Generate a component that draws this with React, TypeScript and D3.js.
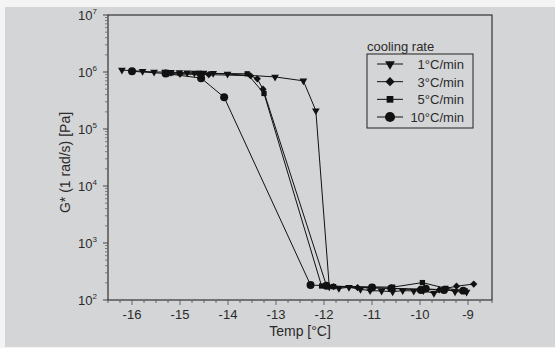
import React, { useEffect, useRef } from 'react';
import * as d3 from 'd3';

// series: temperature [°C] and G* [Pa]
const temp1 = [-16.21, -15.78, -15.54, -15.31, -15.19, -15.01, -14.85, -14.7, -14.51, -14.31, -14.01, -13.02, -12.43, -12.17, -11.89, -11.69, -11.48, -11.24, -11.04, -10.8, -10.57, -10.36, -10.13, -9.93, -9.71, -9.46, -9.27, -9.03];
const g1 = [1.08e6, 1.03e6, 1.0e6, 1.0e6, 9.9e5, 9.8e5, 9.7e5, 9.6e5, 9.6e5, 9.5e5, 9.2e5, 8.2e5, 7.0e5, 2.1e5, 171, 160, 167, 154, 146, 144, 140, 146, 144, 146, 131, 154, 140, 138];

const temp3 = [-15.25, -15.0, -14.4, -13.53, -13.39, -13.27, -11.95, -11.8, -11.3, -10.6, -10.0, -9.6, -9.24, -8.88];
const g3 = [9.4e5, 9.2e5, 9.0e5, 8.6e5, 7.6e5, 5.0e5, 180, 172, 165, 160, 155, 150, 175, 190];

const temp5 = [-15.31, -15.19, -14.6, -13.6, -13.25, -12.05, -11.8, -10.99, -10.57, -9.95, -9.46, -9.06];
const g5 = [9.7e5, 9.6e5, 9.5e5, 9.3e5, 4.2e5, 176, 172, 170, 168, 202, 160, 145];

const temp10 = [-16.0, -15.3, -14.56, -14.08, -12.28, -11.95, -11.0, -10.6, -9.98, -9.88, -9.5, -9.1];
const g10 = [1.03e6, 9.4e5, 7.8e5, 3.6e5, 183, 178, 165, 160, 150, 157, 150, 146];

const seriesNames = ['1°C/min', '3°C/min', '5°C/min', '10°C/min'];
const symbols = [d3.symbolTriangle, d3.symbolSquare, d3.symbolSquare, d3.symbolCircle];
const rotations = [180, 45, 0, 0];
const xTicks = [-16, -15, -14, -13, -12, -11, -10, -9];
const yExponents = [2, 3, 4, 5, 6, 7];

const App = () => {
  const ref = useRef<SVGSVGElement>(null);

  useEffect(() => {
    const svg = d3.select(ref.current);
    svg.selectAll('*').remove();

    const W = 555, H = 348;
    const left = 108, right = 492, top = 15, bottom = 300;
    const font = '"Liberation Sans", Arial, sans-serif';

    svg.append('rect').attr('width', W).attr('height', H).attr('fill', '#f4f4f4');
    svg.append('rect').attr('x', 5).attr('y', 7).attr('width', W - 5).attr('height', H - 8).attr('fill', '#d4d5d7');

    const x = d3.scaleLinear().domain([-16.5, -8.5]).range([left, right]);
    const y = d3.scaleLog().domain([1e2, 1e7]).range([bottom, top]);

    // frame
    svg.append('rect')
      .attr('x', left).attr('y', top)
      .attr('width', right - left).attr('height', bottom - top)
      .attr('fill', 'none').attr('stroke', '#333').attr('stroke-width', 1.2);

    // x axis ticks
    const xMinor = d3.range(-16.5, -8.49, 0.25);
    svg.append('g').selectAll('line').data(xMinor).enter().append('line')
      .attr('x1', d => x(d)).attr('x2', d => x(d))
      .attr('y1', bottom).attr('y2', d => bottom + (Math.abs(d - Math.round(d)) < 1e-6 ? 5 : 3))
      .attr('stroke', '#555').attr('stroke-width', 0.9);

    svg.append('g').selectAll('text').data(xTicks).enter().append('text')
      .attr('x', d => x(d)).attr('y', 319)
      .attr('text-anchor', 'middle')
      .attr('font-family', font).attr('font-size', 13).attr('fill', '#2a2a2a')
      .text(d => `${d}`);

    // y axis ticks (log, minor 2..9)
    const yMinor: number[] = [];
    yExponents.slice(0, -1).forEach(e => {
      for (let k = 2; k <= 9; k++) yMinor.push(k * Math.pow(10, e));
    });
    svg.append('g').selectAll('line').data(yMinor).enter().append('line')
      .attr('x1', left - 3).attr('x2', left)
      .attr('y1', d => y(d)).attr('y2', d => y(d))
      .attr('stroke', '#666').attr('stroke-width', 0.8);
    svg.append('g').selectAll('line').data(yExponents).enter().append('line')
      .attr('x1', left - 5).attr('x2', left)
      .attr('y1', d => y(Math.pow(10, d))).attr('y2', d => y(Math.pow(10, d)))
      .attr('stroke', '#444').attr('stroke-width', 1);

    const yl = svg.append('g').selectAll('text').data(yExponents).enter().append('text')
      .attr('x', 97).attr('y', d => y(Math.pow(10, d)) + 5)
      .attr('text-anchor', 'end')
      .attr('font-family', font).attr('font-size', 13).attr('fill', '#2a2a2a');
    yl.append('tspan').text('10');
    yl.append('tspan').attr('dy', -6).attr('font-size', 8).text(d => `${d}`);

    // axis titles
    svg.append('text')
      .attr('transform', `translate(70,${(top + bottom) / 2 + 5}) rotate(-90)`)
      .attr('text-anchor', 'middle')
      .attr('font-family', font).attr('font-size', 14).attr('fill', '#2a2a2a')
      .text('G* (1 rad/s) [Pa]');
    svg.append('text')
      .attr('x', 300).attr('y', 336)
      .attr('text-anchor', 'middle')
      .attr('font-family', font).attr('font-size', 14).attr('fill', '#2a2a2a')
      .text('Temp [°C]');

    // series
    const allSeries = [
      { t: temp1, g: g1 },
      { t: temp3, g: g3 },
      { t: temp5, g: g5 },
      { t: temp10, g: g10 },
    ];
    const sizes = [26, 26, 28, 50];
    const line = d3.line<[number, number]>().x(d => x(d[0])).y(d => y(d[1]));

    allSeries.forEach((s, i) => {
      const pts = s.t.map((t, j) => [t, s.g[j]] as [number, number]);
      svg.append('path').datum(pts)
        .attr('d', line)
        .attr('fill', 'none').attr('stroke', '#111').attr('stroke-width', 1);
      const sym = d3.symbol().type(symbols[i]).size(sizes[i]);
      svg.append('g').selectAll('path').data(pts).enter().append('path')
        .attr('d', sym)
        .attr('transform', d => `translate(${x(d[0])},${y(d[1])}) rotate(${rotations[i]})`)
        .attr('fill', '#111');
    });

    // legend
    const lg = svg.append('g');
    lg.append('text')
      .attr('x', 367).attr('y', 51)
      .attr('font-family', font).attr('font-size', 13).attr('fill', '#2a2a2a')
      .text('cooling rate');
    lg.append('rect')
      .attr('x', 367).attr('y', 54).attr('width', 106).attr('height', 74)
      .attr('fill', 'none').attr('stroke', '#222').attr('stroke-width', 1);
    const ly = d3.scalePoint<string>().domain(seriesNames).range([64, 117]);
    seriesNames.forEach((name, i) => {
      const yy = ly(name) as number;
      lg.append('line').attr('x1', 377).attr('x2', 403).attr('y1', yy).attr('y2', yy)
        .attr('stroke', '#111').attr('stroke-width', 1);
      lg.append('path')
        .attr('d', d3.symbol().type(symbols[i]).size(sizes[i] * 1.6)())
        .attr('transform', `translate(390,${yy}) rotate(${rotations[i]})`)
        .attr('fill', '#111');
      lg.append('text')
        .attr('x', 464).attr('y', yy + 5)
        .attr('text-anchor', 'end')
        .attr('font-family', font).attr('font-size', 13).attr('fill', '#2a2a2a')
        .text(name);
    });
  }, []);

  return <svg ref={ref} width={555} height={348} style={{ position: 'absolute', left: 0, top: 0 }} />;
};

export default App;
